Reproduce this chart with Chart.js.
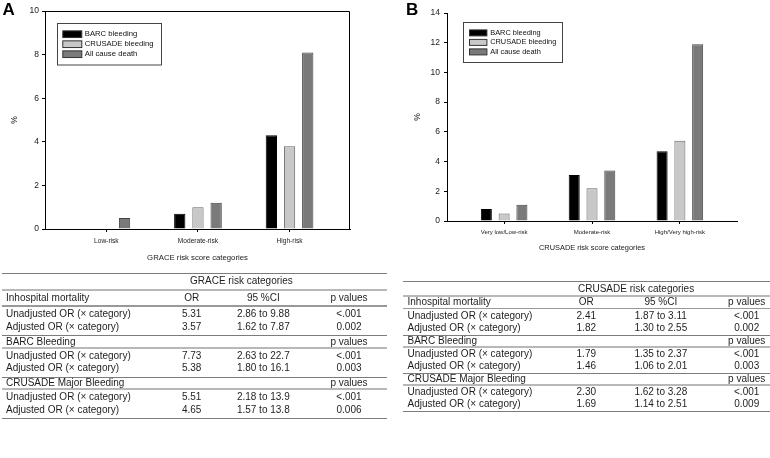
<!DOCTYPE html>
<html>
<head>
<meta charset="utf-8">
<script src="https://cdn.jsdelivr.net/npm/chart.js@4.4.1/dist/chart.umd.min.js"></script>
<style>
  html, body { margin: 0; padding: 0; background: #fff; }
  body { width: 770px; height: 458px; position: relative; overflow: hidden;
         font-family: "Liberation Sans", Arial, sans-serif; color: #1e1e1e; }
  canvas { position: absolute; top: 0; }
  #chartA { left: 0; }
  #chartB { left: 385px; }
  .tbl { position: absolute; font-size: 10px; }
  .row { position: absolute; left: 0; right: 0; }
  .cell { position: absolute; top: 0; white-space: nowrap; }
  .mid { transform: translateX(-50%); }
  .hline { position: absolute; left: 0; right: 0; }
</style>
</head>
<body>
<canvas id="chartA" width="385" height="268"></canvas>
<canvas id="chartB" width="385" height="268"></canvas>
<div id="tableA" class="tbl"></div>
<div id="tableB" class="tbl"></div>
<script>
const seriesNames = ['BARC bleeding', 'CRUSADE bleeding', 'All cause death'];
const seriesColors = ['#000000', '#c8c8c8', '#7a7a7a'];
const seriesBorders = ['#000000', '#666666', '#444444'];

// panel A
const graceCategories = ['Low-risk', 'Moderate-risk', 'High-risk'];
const graceBarc = [0, 0.7, 4.3];
const graceCrusade = [0, 1.0, 3.8];
const graceDeath = [0.5, 1.2, 8.1];
const graceTicks = [0, 2, 4, 6, 8, 10];

// panel B
const crusadeCategories = ['Very low/Low-risk', 'Moderate-risk', 'High/Very high-risk'];
const crusadeBarc = [0.8, 3.1, 4.7];
const crusadeCrusade = [0.5, 2.2, 5.4];
const crusadeDeath = [1.1, 3.4, 11.9];
const crusadeTicks = [0, 2, 4, 6, 8, 10, 12, 14];

// tables
const outcomes = ['Inhospital mortality', 'BARC Bleeding', 'CRUSADE Major Bleeding'];
const models = ['Unadjusted OR (× category)', 'Adjusted OR (× category)'];
const graceOR = ['5.31', '3.57', '7.73', '5.38', '5.51', '4.65'];
const graceCI = ['2.86 to 9.88', '1.62 to 7.87', '2.63 to 22.7', '1.80 to 16.1', '2.18 to 13.9', '1.57 to 13.8'];
const graceP = ['<.001', '0.002', '<.001', '0.003', '<.001', '0.006'];
const crusadeOR = ['2.41', '1.82', '1.79', '1.46', '2.30', '1.69'];
const crusadeCI = ['1.87 to 3.11', '1.30 to 2.55', '1.35 to 2.37', '1.06 to 2.01', '1.62 to 3.28', '1.14 to 2.51'];
const crusadeP = ['<.001', '0.002', '<.001', '0.003', '<.001', '0.009'];

const FONT = '"Liberation Sans", Arial, sans-serif';

const boxLegend = {
  id: 'boxLegend',
  afterDraw(chart, args, o) {
    const { ctx, chartArea } = chart;
    const x0 = Math.round(chartArea.left + o.dx) + 0.5;
    const y0 = Math.round(chartArea.top + o.dy) + 0.5;
    ctx.save();
    ctx.lineWidth = 1;
    ctx.strokeStyle = '#444';
    ctx.strokeRect(x0, y0, o.w, o.h);
    ctx.font = o.fontSize + 'px ' + FONT;
    ctx.textBaseline = 'middle';
    chart.data.datasets.forEach((ds, i) => {
      const cy = y0 + o.firstRow + i * o.rowGap;
      ctx.fillStyle = ds.backgroundColor;
      ctx.fillRect(x0 + o.swatchX, cy - o.swatchH / 2, o.swatchW, o.swatchH);
      ctx.strokeStyle = '#333';
      ctx.strokeRect(x0 + o.swatchX, cy - o.swatchH / 2, o.swatchW, o.swatchH);
      ctx.fillStyle = '#111';
      ctx.fillText(ds.label, x0 + o.textX, cy);
    });
    ctx.restore();
  }
};

const panelLetter = {
  id: 'panelLetter',
  afterDraw(chart, args, o) {
    const ctx = chart.ctx;
    ctx.save();
    ctx.font = 'bold 17px ' + FONT;
    ctx.fillStyle = '#000';
    ctx.textBaseline = 'alphabetic';
    ctx.fillText(o.text, o.x, o.y);
    ctx.restore();
  }
};

const frame = {
  id: 'frame',
  afterDraw(chart, args, o) {
    if (!o.show) return;
    const { ctx, chartArea: a } = chart;
    ctx.save();
    ctx.strokeStyle = '#000';
    ctx.lineWidth = 1;
    ctx.beginPath();
    ctx.moveTo(a.left, a.top + 0.5);
    ctx.lineTo(a.right - 0.5, a.top + 0.5);
    ctx.lineTo(a.right - 0.5, a.bottom);
    ctx.stroke();
    ctx.restore();
  }
};

function makeChart(id, cfg) {
  const W = 385, H = 268;
  const series = [cfg.barc, cfg.crusade, cfg.death];
  return new Chart(document.getElementById(id), {
    type: 'bar',
    data: {
      datasets: series.map((vals, i) => ({
        label: seriesNames[i],
        data: vals.map((v, j) => ({ x: j + 1, y: v })),
        backgroundColor: seriesColors[i],
        borderColor: seriesBorders[i],
        borderWidth: c => (c.raw && c.raw.y ? 1 : 0),
        barPercentage: cfg.barPct,
        categoryPercentage: cfg.catPct
      }))
    },
    options: {
      responsive: false,
      animation: false,
      devicePixelRatio: 1,
      layout: { padding: { left: 0, top: cfg.area.top, right: W - cfg.area.right, bottom: 0 } },
      plugins: {
        legend: { display: false },
        tooltip: { enabled: false },
        boxLegend: cfg.legend,
        panelLetter: cfg.letter,
        frame: { show: cfg.frame }
      },
      scales: {
        x: {
          type: 'linear',
          min: cfg.xMin,
          max: cfg.xMax,
          offset: false,
          afterBuildTicks: s => { s.ticks = cfg.categories.map((c, i) => ({ value: i + 1 })); },
          afterFit: s => { s.height = H - cfg.area.bottom; },
          ticks: {
            callback: (v, i) => cfg.categories[i],
            autoSkip: false, maxRotation: 0,
            color: '#1a1a1a',
            padding: cfg.xTickPad,
            font: { family: FONT, size: cfg.xTickSize }
          },
          grid: { display: true, drawOnChartArea: false, drawTicks: true, tickLength: 3, color: '#000', offset: false },
          border: { display: true, color: '#000', width: 1 },
          title: {
            display: true, text: cfg.xTitle, color: '#1a1a1a',
            font: { family: FONT, size: cfg.xTitleSize },
            padding: { top: 0, bottom: cfg.xTitlePad }
          }
        },
        y: {
          min: 0,
          max: cfg.yTicks[cfg.yTicks.length - 1],
          afterBuildTicks: s => { s.ticks = cfg.yTicks.map(v => ({ value: v })); },
          afterFit: s => { s.width = cfg.area.left; },
          ticks: {
            color: '#1a1a1a',
            padding: cfg.yTickPad,
            font: { family: FONT, size: 8.5 }
          },
          grid: { display: true, drawOnChartArea: false, drawTicks: true, tickLength: 3, color: '#000' },
          border: { display: true, color: '#000', width: 1 },
          title: {
            display: true, text: '%', color: '#1a1a1a',
            font: { family: FONT, size: 8.5 },
            padding: { top: cfg.yTitlePad, bottom: 0 }
          }
        }
      }
    },
    plugins: [boxLegend, panelLetter, frame]
  });
}

makeChart('chartA', {
  categories: graceCategories,
  barc: graceBarc, crusade: graceCrusade, death: graceDeath,
  yTicks: graceTicks,
  area: { left: 45, top: 11, right: 350, bottom: 229 },
  xMin: 0.33, xMax: 3.66,
  barPct: 0.62, catPct: 0.596,
  xTickSize: 6.6, xTickPad: 5.3,
  xTitle: 'GRACE risk score categories', xTitleSize: 7.75, xTitlePad: 5.3,
  yTickPad: 3, yTitlePad: 9.9,
  frame: true,
  letter: { text: 'A', x: 2.5, y: 15.3 },
  legend: { dx: 12.4, dy: 12.3, w: 104, h: 41.5, swatchX: 5.3, swatchW: 19, swatchH: 6.7,
            firstRow: 10.7, rowGap: 10, textX: 27.3, fontSize: 7.7 }
});

makeChart('chartB', {
  categories: crusadeCategories,
  barc: crusadeBarc, crusade: crusadeCrusade, death: crusadeDeath,
  yTicks: crusadeTicks,
  area: { left: 62, top: 13, right: 352, bottom: 221 },
  xMin: 0.35, xMax: 3.65,
  barPct: 0.62, catPct: 0.607,
  xTickSize: 6, xTickPad: 4.7,
  xTitle: 'CRUSADE risk score categories', xTitleSize: 7.4, xTitlePad: 15.5,
  yTickPad: 4, yTitlePad: 27.6,
  frame: false,
  letter: { text: 'B', x: 21, y: 15 },
  legend: { dx: 16.3, dy: 9.3, w: 99, h: 40, swatchX: 6, swatchW: 17.4, swatchH: 6,
            firstRow: 10.4, rowGap: 9.5, textX: 26.7, fontSize: 7.4 }
});

function buildTable(id, t) {
  const el = document.getElementById(id);
  el.style.left = t.left + 'px';
  el.style.top = '0px';
  el.style.width = t.width + 'px';
  el.style.height = '458px';
  let html = '';
  const line = (y, w, c) => {
    html += `<div class="hline" style="top:${(y - w / 2).toFixed(2)}px;height:${w}px;background:${c}"></div>`;
  };
  const row = (y, h, cells) => {
    html += `<div class="row" style="top:${y}px;height:${h}px;line-height:${h}px">`;
    cells.forEach(c => {
      html += `<span class="cell${c.center ? ' mid' : ''}" style="left:${c.x - t.left}px">${c.text}</span>`;
    });
    html += '</div>';
  };
  const thin = '#7c7c7c', thick = '#b8b8b8';
  const m = t.metrics;
  let y = t.top;
  line(y, 1, thin);
  row(y, m.head, [{ x: t.titleX, text: t.title }]);
  y += m.head;
  line(y, 2, thick);
  outcomes.forEach((name, g) => {
    if (g === 0) {
      row(y, m.inh, [
        { x: t.labelX, text: name },
        { x: t.orX, text: 'OR', center: true },
        { x: t.ciX, text: '95 %CI', center: true },
        { x: t.pX, text: 'p values', center: true }
      ]);
      y += m.inh;
      line(y, 1.5, '#999');
    } else {
      line(y, 1, thin);
      row(y, m.grp, [
        { x: t.labelX, text: name },
        { x: t.pX, text: 'p values', center: true }
      ]);
      y += m.grp;
      line(y, 2, thick);
    }
    let ry = y + m.pad;
    models.forEach((mod, k) => {
      const idx = g * 2 + k;
      row(ry, m.data, [
        { x: t.labelX, text: mod },
        { x: t.orX, text: t.or[idx], center: true },
        { x: t.ciX, text: t.ci[idx], center: true },
        { x: t.pX, text: t.p[idx].replace('<', '&lt;'), center: true }
      ]);
      ry += m.data;
    });
    y += m.data * 2 + m.pad * 2;
  });
  line(y, 1, thin);
  el.innerHTML = html;
}

buildTable('tableA', {
  left: 2, width: 385, top: 273,
  title: 'GRACE risk categories', titleX: 190,
  labelX: 6, orX: 191.7, ciX: 263.3, pX: 349,
  or: graceOR, ci: graceCI, p: graceP,
  metrics: { head: 16.5, inh: 16.5, grp: 12, data: 12.7, pad: 2.05 }
});

buildTable('tableB', {
  left: 403, width: 367, top: 281,
  title: 'CRUSADE risk categories', titleX: 578,
  labelX: 407.5, orX: 586.3, ciX: 660.8, pX: 746.7,
  or: crusadeOR, ci: crusadeCI, p: crusadeP,
  metrics: { head: 15, inh: 12.5, grp: 11.4, data: 12.3, pad: 1 }
});
</script>
</body>
</html>
